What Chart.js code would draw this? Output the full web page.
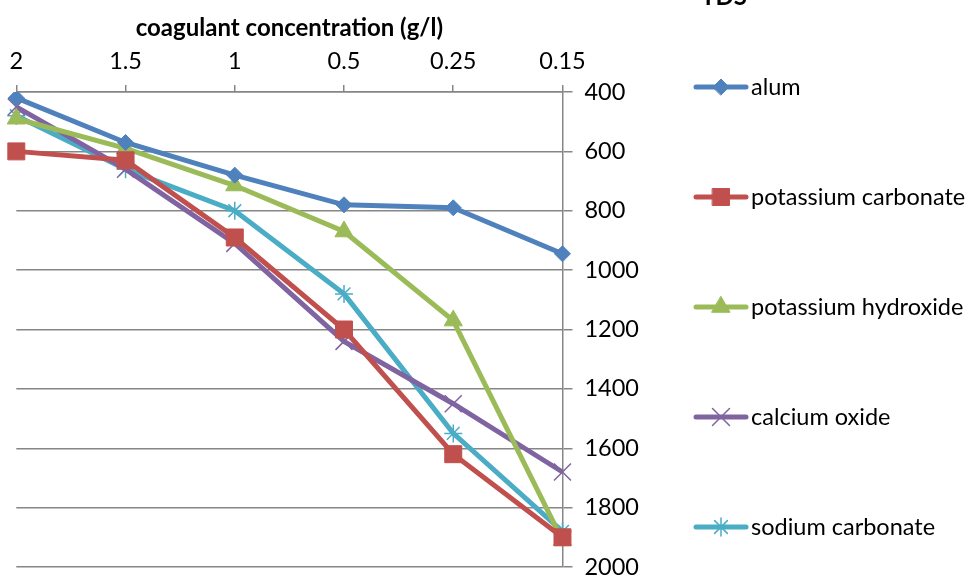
<!DOCTYPE html>
<html>
<head>
<meta charset="utf-8">
<script src="https://cdn.jsdelivr.net/npm/chart.js@4.4.1/dist/chart.umd.min.js"></script>
<style>
  html, body { margin: 0; padding: 0; background: #fff; }
  #wrap { width: 966px; height: 576px; }
</style>
</head>
<body>
<div id="wrap"><canvas id="chart" width="966" height="576"></canvas></div>
<script>
// donnees
const concentrations = ['2', '1.5', '1', '0.5', '0.25', '0.15'];
const alum = [420, 570, 680, 780, 790, 945];
const potassiumCarbonate = [600, 630, 890, 1200, 1620, 1900];
const potassiumHydroxide = [490, 590, 715, 870, 1170, 1910];
const calciumOxide = [450, 660, 910, 1240, 1450, 1680];
const sodiumCarbonate = [480, 660, 800, 1080, 1550, 1880];
const tdsMin = 400, tdsMax = 2000, tdsStep = 200;

const FONT = 'Lato, "Open Sans", sans-serif';

function serie(label, data, color, style, radius, bw) {
  return {
    label: label,
    data: data,
    borderColor: color,
    backgroundColor: color,
    borderWidth: 5,
    pointStyle: style,
    pointRadius: radius,
    pointHoverRadius: radius,
    pointBorderWidth: bw,
    pointBackgroundColor: color,
    pointBorderColor: color,
    tension: 0
  };
}

// legende "ligne + marqueur" a la facon d'Excel + titre TDS
const legendPlugin = {
  id: 'excelLegend',
  afterDraw(chart) {
    const ctx = chart.ctx;
    ctx.save();
    ctx.font = 'bold 24px ' + FONT;
    ctx.fillStyle = '#000';
    ctx.textAlign = 'left';
    ctx.textBaseline = 'alphabetic';
    ctx.fillText('TDS', 701, 5);

    ctx.font = '23.5px ' + FONT;
    ctx.textBaseline = 'middle';
    chart.data.datasets.forEach((ds, i) => {
      const y = 87 + i * 110;
      ctx.strokeStyle = ds.borderColor;
      ctx.lineWidth = 5;
      ctx.lineCap = 'round';
      ctx.beginPath();
      ctx.moveTo(696, y);
      ctx.lineTo(746, y);
      ctx.stroke();
      ctx.fillStyle = ds.backgroundColor;
      ctx.strokeStyle = ds.borderColor;
      ctx.lineWidth = ds.pointBorderWidth;
      Chart.helpers.drawPoint(ctx, {
        pointStyle: ds.pointStyle,
        radius: ds.pointRadius,
        rotation: 0,
        borderWidth: ds.pointBorderWidth
      }, 721, y);
      ctx.fillStyle = '#000';
      ctx.fillText(ds.label, 751, y);
    });
    ctx.restore();
  }
};

const ctx = document.getElementById('chart').getContext('2d');
const chart = new Chart(ctx, {
  type: 'line',
  data: {
    labels: concentrations,
    datasets: [
      serie('alum', alum, '#4F81BD', 'rectRot', 8, 1),
      serie('potassium carbonate', potassiumCarbonate, '#C0504D', 'rect', 12, 1),
      serie('potassium hydroxide', potassiumHydroxide, '#9BBB59', 'triangle', 10.5, 1),
      serie('calcium oxide', calciumOxide, '#8064A2', 'crossRot', 12, 1.5),
      serie('sodium carbonate', sodiumCarbonate, '#4BACC6', 'star', 9, 1.5)
    ]
  },
  options: {
    responsive: false,
    animation: false,
    layout: {
      autoPadding: false, // les marqueurs debordent du cadre comme dans Excel
      padding: { left: 14, right: 315, top: 13.5, bottom: 9 }
    },
    plugins: {
      legend: { display: false },
      tooltip: { enabled: false }
    },
    scales: {
      x: {
        position: 'top',
        offset: false,
        grid: {
          drawOnChartArea: false,
          drawTicks: true,
          tickLength: 7,
          color: '#868686',
          lineWidth: 1.5
        },
        border: { display: true, color: '#868686', width: 1.5 },
        ticks: {
          color: '#000',
          font: { family: FONT, size: 23.5 },
          padding: 9.5,
          maxRotation: 0
        },
        title: {
          display: true,
          text: 'coagulant concentration (g/l)',
          color: '#000',
          font: { family: FONT, size: 24, weight: 'bold' },
          padding: { top: 0, bottom: -4.5 }
        }
      },
      y: {
        position: 'right',
        reverse: true,
        min: tdsMin,
        max: tdsMax,
        afterFit(scale) {
          // laisser le libelle 2000 deborder en bas comme dans l'original
          scale.paddingBottom = 0;
          scale.paddingTop = 0;
        },
        ticks: {
          stepSize: tdsStep,
          color: '#000',
          font: { family: FONT, size: 23.5, lineHeight: 0.2 },
          padding: 12,
          callback: v => String(v)
        },
        grid: {
          color: '#868686',
          lineWidth: 1.5,
          tickLength: 10
        },
        border: { display: true, color: '#868686', width: 1.5 }
      }
    }
  },
  plugins: [legendPlugin]
});
</script>
</body>
</html>
